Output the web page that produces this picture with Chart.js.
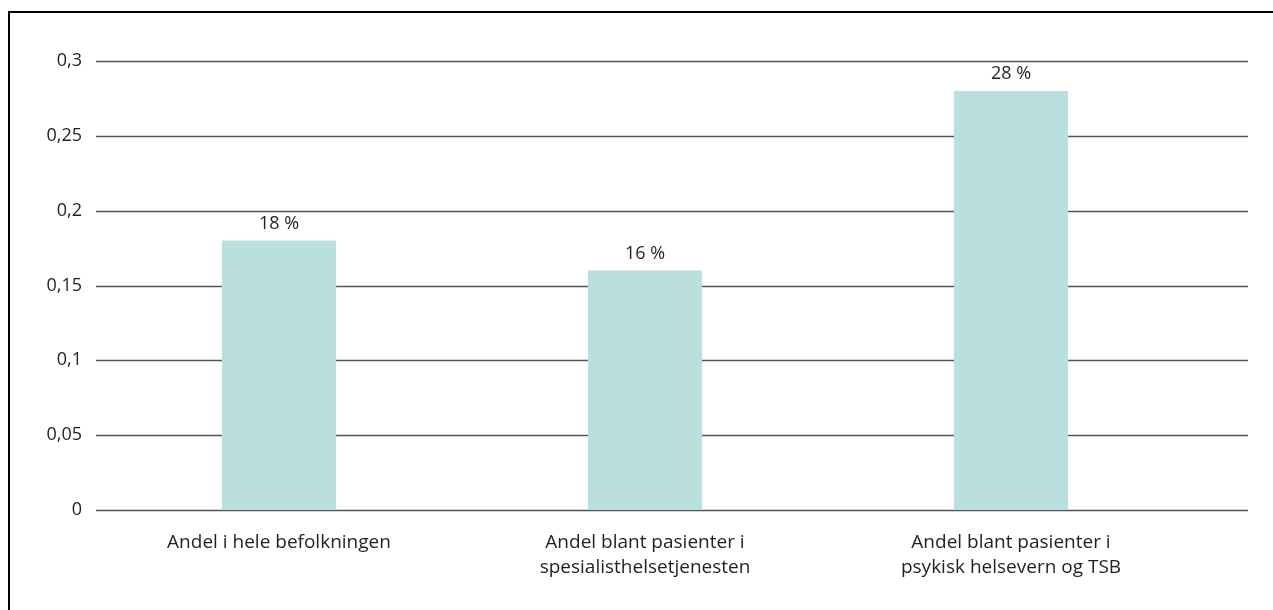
<!DOCTYPE html>
<html>
<head>
<meta charset="utf-8">
<script src="https://cdn.jsdelivr.net/npm/chart.js@4.4.1/dist/chart.umd.min.js"></script>
<style>
  html, body { margin: 0; padding: 0; background: #fff; }
  #wrap { width: 1273px; height: 610px; position: relative; }
</style>
</head>
<body>
<div id="wrap"><canvas id="c" width="1273" height="610"></canvas></div>
<script>
// data
const categories = [
    ["Andel i hele befolkningen"],
    ["Andel blant pasienter i", "spesialisthelsetjenesten"],
    ["Andel blant pasienter i", "psykisk helsevern og TSB"]
];
const shares = [0.18, 0.16, 0.28];
const yTicks = [0, 0.05, 0.1, 0.15, 0.2, 0.25, 0.3];

const textColor = "#231f20";
const fontFamily = "'Open Sans', 'Noto Sans', sans-serif";

// frame on the top and left edge
const framePlugin = {
    id: "frame",
    beforeDraw(chart) {
        const ctx = chart.ctx;
        ctx.save();
        ctx.fillStyle = "#000";
        ctx.fillRect(8, 11, chart.width - 8, 2);
        ctx.fillRect(8, 11, 2, chart.height - 11);
        ctx.restore();
    }
};

// gridlines run a bit past the last category
const gridPlugin = {
    id: "longGrid",
    beforeDatasetsDraw(chart) {
        const ctx = chart.ctx;
        const y = chart.scales.y;
        const area = chart.chartArea;
        ctx.save();
        ctx.strokeStyle = "#555";
        ctx.lineWidth = 1.5;
        y.ticks.forEach(t => {
            const py = Math.round(y.getPixelForValue(t.value)) + 0.5;
            ctx.beginPath();
            ctx.moveTo(area.left, py);
            ctx.lineTo(area.right + 54, py);
            ctx.stroke();
        });
        ctx.restore();
    }
};

const valueLabels = {
    id: "valueLabels",
    afterDatasetsDraw(chart) {
        const ctx = chart.ctx;
        ctx.save();
        ctx.font = "18px " + fontFamily;
        ctx.fillStyle = textColor;
        ctx.textAlign = "center";
        ctx.textBaseline = "alphabetic";
        chart.getDatasetMeta(0).data.forEach((bar, i) => {
            ctx.fillText(Math.round(shares[i] * 100) + " %", bar.x, bar.y - 12);
        });
        ctx.restore();
    }
};

new Chart(document.getElementById("c"), {
    type: "bar",
    data: {
        labels: categories,
        datasets: [{
            data: shares,
            backgroundColor: "#b9e0df",
            borderWidth: 0,
            categoryPercentage: 1,
            barPercentage: 0.312
        }]
    },
    options: {
        responsive: false,
        animation: false,
        layout: { padding: { top: 61, right: 79, bottom: 0, left: 0 } },
        plugins: { legend: { display: false }, tooltip: { enabled: false } },
        scales: {
            x: {
                grid: { display: false },
                border: { display: false },
                ticks: {
                    color: textColor,
                    font: { family: fontFamily, size: 19, lineHeight: "25px" },
                    padding: 12,
                    maxRotation: 0,
                    autoSkip: false
                },
                afterFit(scale) { scale.height = 100; }
            },
            y: {
                min: 0,
                max: 0.3,
                afterBuildTicks(scale) {
                    scale.ticks = yTicks.map(v => ({ value: v }));
                },
                grid: { display: false, drawTicks: false },
                border: { display: false },
                ticks: {
                    color: textColor,
                    font: { family: fontFamily, size: 18 },
                    padding: 14,
                    callback: v => String(Math.round(v * 100) / 100).replace(".", ",")
                },
                afterFit(scale) { scale.width = 96; }
            }
        }
    },
    plugins: [framePlugin, gridPlugin, valueLabels]
});
</script>
</body>
</html>
